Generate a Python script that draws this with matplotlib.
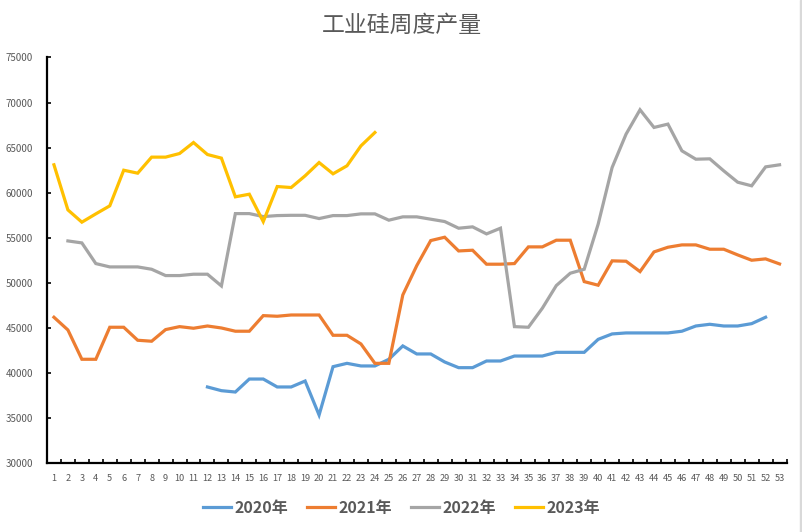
import matplotlib
matplotlib.use('Agg')
import matplotlib.pyplot as plt
import numpy as np

plt.rcParams['font.family'] = ['Noto Sans CJK SC', 'DejaVu Sans']

weeks = list(range(1, 54))

# 2020: weeks 12-52
y2020 = [38470, 38060, 37910, 39350, 39350, 38470, 38470, 39130, 35360, 40720,
         41090, 40800, 40800, 41540, 43020, 42130, 42130, 41240, 40610, 40610,
         41350, 41350, 41900, 41900, 41900, 42310, 42310, 42310, 43750, 44350,
         44460, 44460, 44460, 44460, 44650, 45230, 45420, 45230, 45230, 45490,
         46200]
# 2021: weeks 1-53
y2021 = [46200, 44790, 41540, 41540, 45090, 45090, 43650, 43540, 44830, 45160,
         44980, 45230, 45010, 44650, 44650, 46380, 46310, 46450, 46450, 46450,
         44200, 44200, 43240, 41090, 41090, 48670, 51920, 54700, 55070, 53550,
         53630, 52080, 52080, 52150, 54000, 54000, 54740, 54740, 50150, 49750,
         52450, 52410, 51260, 53440, 53960, 54220, 54220, 53740, 53740, 53110,
         52520, 52670, 52110]
# 2022: weeks 2-53
y2022 = [54660, 54440, 52150, 51780, 51780, 51780, 51520, 50820, 50820, 50970,
         50970, 49670, 57690, 57690, 57360, 57470, 57500, 57500, 57140, 57470,
         57470, 57660, 57660, 56960, 57330, 57330, 57070, 56810, 56070, 56220,
         55440, 56070, 45160, 45090, 47200, 49710, 51080, 51520, 56520, 62800,
         66500, 69200, 67240, 67610, 64650, 63720, 63760, 62430, 61170, 60770,
         62870, 63100]
# 2023: weeks 1-24
y2023 = [63100, 58100, 56740, 57660, 58550, 62500, 62170, 63950, 63950, 64350,
         65570, 64240, 63840, 59550, 59840, 56800, 60690, 60580, 61880, 63350,
         62100, 62990, 65200, 66680]

series = [
    ('2020年', weeks[11:52], y2020, '#5B9BD5'),
    ('2021年', weeks, y2021, '#ED7D31'),
    ('2022年', weeks[1:], y2022, '#A5A5A5'),
    ('2023年', weeks[:24], y2023, '#FFC000'),
]

fig = plt.figure(figsize=(8.03, 5.32), dpi=100)
ax = fig.add_axes([0.0585, 0.129, 0.921, 0.763])

for name, x, y, c in series:
    ax.plot(x, y, color=c, lw=2.3, label=name, solid_joinstyle='miter')

ax.set_xlim(0.5, 53.5)
ax.set_ylim(30000, 75000)
ax.set_yticks(np.arange(30000, 75001, 5000))
ax.set_xticks(weeks)
ax.set_xticks(np.arange(0.5, 53.6, 1), minor=True)
ax.tick_params(axis='x', which='major', length=0, labelsize=6.6, colors='#595959', pad=8)
ax.tick_params(axis='x', which='minor', direction='in', length=3, width=1.2, color='black')
ax.tick_params(axis='y', direction='in', length=3, width=1.2, labelsize=7, labelcolor='#595959', pad=10)

for s in ['top', 'right']:
    ax.spines[s].set_visible(False)
for s in ['left', 'bottom']:
    ax.spines[s].set_linewidth(1.6)
    ax.spines[s].set_color('black')

fig.text(0.5, 0.953, '工业硅周度产量', ha='center', va='center', fontsize=16.5, color='#595959')

leg = fig.legend(loc='center', bbox_to_anchor=(0.5, 0.045), ncol=4, frameon=False,
                 handlelength=1.75, columnspacing=1.2, handletextpad=0.2,
                 prop={'size': 11.5, 'weight': 'bold'})
for t in leg.get_texts():
    t.set_color('#595959')

fig.patches.append(plt.Rectangle((0.9965, 0), 0.002, 1, transform=fig.transFigure,
                                 color='#d9d9d9', zorder=-1))

fig.savefig('out.png', dpi=100)
